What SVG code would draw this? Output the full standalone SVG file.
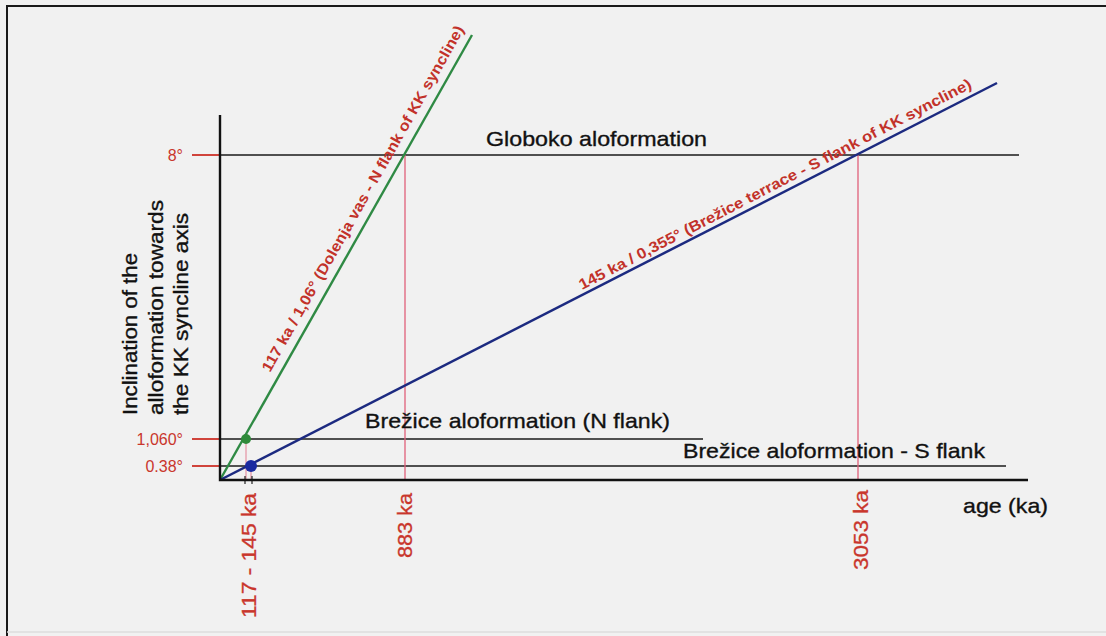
<svg xmlns="http://www.w3.org/2000/svg" width="1106" height="636" viewBox="0 0 1106 636">
  <style>
    .lbl { font-family: "Liberation Sans", Arial, sans-serif; font-size: 21px; fill: #111; stroke: #111; stroke-width: 0.35; }
    .red { font-family: "Liberation Sans", Arial, sans-serif; fill: #c9362c; }
    .tick { font-size: 16px; }
    .vlab { font-size: 21px; stroke: #c9362c; stroke-width: 0.3; }
    .slant { font-size: 15px; font-weight: bold; fill: #c2322a; }
    .axis { stroke: #111; stroke-width: 2.4; fill: none; }
    .ref { stroke: #1a1a1a; stroke-width: 1.6; fill: none; }
    .redtick { stroke: #d0443c; stroke-width: 2; }
    .guide { stroke: #e0607a; stroke-width: 1.3; }
  </style>

  <!-- background and frame -->
  <rect x="0" y="0" width="1106" height="636" fill="#f1f1f1"/>
  <path d="M7 636 V6 H1106" stroke="#1a1a1a" stroke-width="2" fill="none"/>
  <line x1="7" y1="632" x2="1106" y2="632" stroke="#dcdcdc" stroke-width="1.5"/>

  <g id="connectors">
    <!-- reference levels -->
    <line class="ref" x1="220" y1="155" x2="1019" y2="155"/>
    <line class="ref" x1="220" y1="439" x2="703" y2="439"/>
    <line class="ref" x1="220" y1="466" x2="1006" y2="466"/>
    <!-- vertical age guides -->
    <line class="guide" x1="405" y1="155" x2="405" y2="480"/>
    <line class="guide" x1="858" y1="155" x2="858" y2="480"/>
    <line class="guide" x1="246" y1="439" x2="246" y2="480" stroke-opacity="0.6"/>
    <line class="guide" x1="251" y1="466" x2="251" y2="480" stroke-opacity="0.6"/>
    <!-- inclination ticks on the y axis -->
    <line class="redtick" x1="192" y1="155" x2="220" y2="155"/>
    <line class="redtick" x1="192" y1="439" x2="220" y2="439"/>
    <line class="redtick" x1="192" y1="466" x2="220" y2="466"/>
    <!-- small ticks on the age axis -->
    <line x1="245" y1="476" x2="245" y2="484" stroke="#222" stroke-width="1.2"/>
    <line x1="252" y1="476" x2="252" y2="484" stroke="#222" stroke-width="1.2"/>
    <!-- tilt trends -->
    <line x1="220" y1="480" x2="472" y2="35" stroke="#2f8a44" stroke-width="2.4"/>
    <line x1="220" y1="480" x2="997" y2="83" stroke="#1c2a80" stroke-width="2.5"/>
    <!-- axes -->
    <path class="axis" d="M220 115 V480 H1028"/>
  </g>

  <g id="points">
    <circle cx="246" cy="439" r="5" fill="#2f8a3a"/>
    <circle cx="251" cy="466" r="6" fill="#1a2aa0"/>
  </g>

  <g id="y-axis-title">
    <text class="lbl" transform="translate(137 415) rotate(-90)" textLength="162" lengthAdjust="spacingAndGlyphs">Inclination of the</text>
    <text class="lbl" transform="translate(162.5 415) rotate(-90)" textLength="215" lengthAdjust="spacingAndGlyphs">alloformation towards</text>
    <text class="lbl" transform="translate(188 415) rotate(-90)" textLength="202" lengthAdjust="spacingAndGlyphs">the KK syncline axis</text>
  </g>

  <g id="y-ticks">
    <text class="red tick" x="183" y="161" text-anchor="end">8°</text>
    <text class="red tick" x="183" y="445" text-anchor="end">1,060°</text>
    <text class="red tick" x="183" y="472" text-anchor="end">0.38°</text>
  </g>

  <g id="x-ticks">
    <text class="red vlab" transform="translate(256 618) rotate(-90)" textLength="125" lengthAdjust="spacingAndGlyphs">117 - 145 ka</text>
    <text class="red vlab" transform="translate(412 558) rotate(-90)" textLength="65" lengthAdjust="spacingAndGlyphs">883 ka</text>
    <text class="red vlab" transform="translate(868 570) rotate(-90)" textLength="80" lengthAdjust="spacingAndGlyphs">3053 ka</text>
    <text class="lbl" x="963" y="513" textLength="85" lengthAdjust="spacingAndGlyphs">age (ka)</text>
  </g>

  <g id="globoko">
    <text class="lbl" x="486" y="146" textLength="221" lengthAdjust="spacingAndGlyphs">Globoko aloformation</text>
  </g>

  <g id="brezice-n">
    <text class="lbl" x="365" y="428" textLength="305" lengthAdjust="spacingAndGlyphs">Brežice aloformation (N flank)</text>
  </g>

  <g id="brezice-s">
    <text class="lbl" x="683" y="458" textLength="302" lengthAdjust="spacingAndGlyphs">Brežice aloformation - S flank</text>
  </g>

  <g id="trend-labels">
    <text class="red slant" transform="translate(270 373) rotate(-60.5)" textLength="395" lengthAdjust="spacingAndGlyphs">117 ka / 1,06° (Dolenja vas - N flank of KK syncline)</text>
    <text class="red slant" transform="translate(582 290) rotate(-27.4)" textLength="440" lengthAdjust="spacingAndGlyphs">145 ka / 0,355° (Brežice terrace - S flank of KK syncline)</text>
  </g>
</svg>
